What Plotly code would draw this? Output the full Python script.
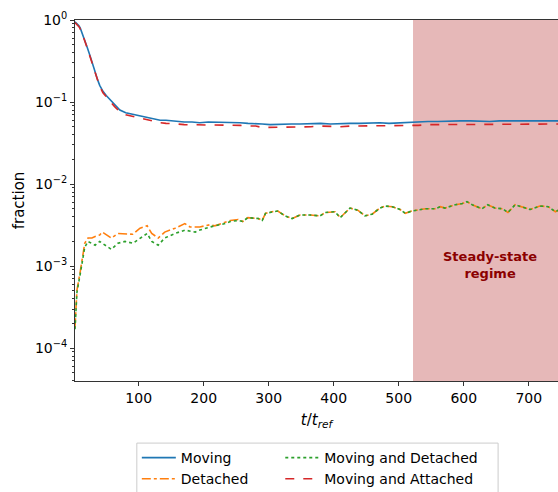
import plotly.graph_objects as go

# ---- data ----
t_mov = [2, 4, 6, 8, 10, 12, 14, 17, 21, 25, 29, 33, 37, 40, 45, 50, 56, 63, 71, 80, 90, 102, 115,
         125, 133, 142, 150, 160, 170, 182, 194, 207, 220, 238, 256, 268, 280, 290, 302, 320, 335,
         348, 365, 380, 395, 410, 425, 440, 455, 471, 485, 500, 515, 530, 545,
         560, 580, 595, 610, 625, 640, 655, 670, 685, 700, 715, 730, 748]
moving = [0.95, 0.92, 0.88, 0.85, 0.80, 0.73, 0.66, 0.57, 0.46, 0.37, 0.29, 0.225, 0.185, 0.16,
          0.135, 0.12, 0.106, 0.092, 0.08, 0.074, 0.071, 0.067, 0.064,
          0.062, 0.060, 0.060, 0.059, 0.058, 0.057, 0.057, 0.056, 0.057, 0.057, 0.056, 0.056, 0.055,
          0.055, 0.054, 0.053, 0.054, 0.054, 0.054, 0.055, 0.055, 0.054, 0.055, 0.055, 0.055, 0.056,
          0.056, 0.055, 0.056, 0.057, 0.057, 0.058,
          0.058, 0.059, 0.059, 0.059, 0.058, 0.058, 0.059, 0.059, 0.058, 0.059, 0.059, 0.059, 0.059]
moving_attached = [0.93, 0.90, 0.86, 0.83, 0.78, 0.72, 0.65, 0.56, 0.45, 0.36, 0.28, 0.22, 0.18,
                   0.155, 0.13, 0.115, 0.102, 0.088, 0.076, 0.070, 0.067, 0.063, 0.060,
                   0.057, 0.056, 0.055, 0.055, 0.054, 0.053, 0.053, 0.052, 0.053, 0.053, 0.052,
                   0.052, 0.051, 0.051, 0.049, 0.049, 0.050, 0.050, 0.050, 0.050, 0.051, 0.050,
                   0.050, 0.051, 0.051, 0.051, 0.052, 0.051, 0.052, 0.052, 0.052, 0.053,
                   0.053, 0.054, 0.053, 0.053, 0.054, 0.054, 0.053, 0.053, 0.054, 0.054, 0.054,
                   0.054, 0.054]

t_det = [2, 5, 10, 13, 17, 22, 28, 33, 40, 44,
         53, 58, 68, 79, 91, 102, 113, 120, 130, 140,
         156, 171, 179, 187, 194, 202, 210, 217, 233, 241,
         253, 260, 268, 284, 290, 295, 305, 314, 325, 336,
         348, 364, 379, 387, 402, 410, 418, 425, 437, 448,
         459, 471, 479, 490, 502, 510, 520, 541, 556, 564,
         571, 587, 598, 605, 613, 621, 628, 637, 648, 660,
         668, 679, 690, 702, 717, 730, 741, 748]
detached = [1.8e-4, 5.1e-4, 8.5e-4, 1.25e-3, 1.9e-3, 2.2e-3, 2.2e-3, 2.3e-3, 2.4e-3, 2.6e-3,
            2.3e-3, 2.2e-3, 2.5e-3, 2.5e-3, 2.45e-3, 2.9e-3, 3.1e-3, 2.5e-3, 2.2e-3, 2.6e-3,
            2.9e-3, 3.3e-3, 3.0e-3, 3.0e-3, 3.0e-3, 3.1e-3, 3.2e-3, 3.1e-3, 3.4e-3, 3.6e-3,
            3.7e-3, 3.5e-3, 3.9e-3, 3.8e-3, 3.6e-3, 4.4e-3, 4.6e-3, 4.7e-3, 4.1e-3, 3.8e-3,
            4.2e-3, 4.2e-3, 4.1e-3, 4.5e-3, 4.6e-3, 3.9e-3, 4.5e-3, 5.1e-3, 4.8e-3, 4.1e-3,
            4.3e-3, 5.1e-3, 5.4e-3, 5.3e-3, 4.9e-3, 4.4e-3, 4.7e-3, 5.0e-3, 5.0e-3, 5.3e-3,
            5.1e-3, 5.6e-3, 5.8e-3, 6.1e-3, 5.6e-3, 5.3e-3, 5.0e-3, 5.6e-3, 5.1e-3, 5.0e-3,
            4.5e-3, 5.6e-3, 5.3e-3, 4.9e-3, 5.4e-3, 5.3e-3, 4.6e-3, 4.9e-3]
moving_detached = [1.7e-4, 4.8e-4, 8.0e-4, 1.15e-3, 1.7e-3, 2.0e-3, 1.9e-3, 1.8e-3, 2.0e-3, 1.9e-3,
                   1.7e-3, 1.6e-3, 1.9e-3, 2.0e-3, 1.9e-3, 2.2e-3, 2.5e-3, 2.0e-3, 1.8e-3, 2.2e-3,
                   2.5e-3, 2.75e-3, 2.7e-3, 2.6e-3, 2.75e-3, 2.9e-3, 3.0e-3, 3.1e-3, 3.3e-3, 3.5e-3,
                   3.6e-3, 3.5e-3, 3.9e-3, 3.8e-3, 3.6e-3, 4.4e-3, 4.6e-3, 4.7e-3, 4.1e-3, 3.8e-3,
                   4.2e-3, 4.2e-3, 4.1e-3, 4.5e-3, 4.6e-3, 3.9e-3, 4.5e-3, 5.1e-3, 4.8e-3, 4.1e-3,
                   4.3e-3, 5.1e-3, 5.4e-3, 5.3e-3, 4.9e-3, 4.4e-3, 4.7e-3, 5.0e-3, 5.0e-3, 5.3e-3,
                   5.1e-3, 5.6e-3, 5.8e-3, 6.1e-3, 5.6e-3, 5.3e-3, 5.0e-3, 5.6e-3, 5.1e-3, 5.0e-3,
                   4.5e-3, 5.6e-3, 5.3e-3, 4.9e-3, 5.4e-3, 5.3e-3, 4.6e-3, 4.9e-3]

steady_start = 522
x_ticks = [100, 200, 300, 400, 500, 600, 700]
y_ticks = [1e-4, 1e-3, 1e-2, 1e-1, 1e0]
y_ticktext = ["10<sup>−4</sup>", "10<sup>−3</sup>", "10<sup>−2</sup>", "10<sup>−1</sup>", "10<sup>0</sup>"]

FONT = "DejaVu Sans"
x_min, x_max = 2, 745

fig = go.Figure()
fig.add_trace(go.Scatter(x=t_mov, y=moving, name="Moving", mode="lines",
                         line=dict(color="#1f77b4", width=1.6), legend="legend", legendrank=1))
fig.add_trace(go.Scatter(x=t_det, y=detached, name="Detached", mode="lines",
                         line=dict(color="#ff7f0e", width=1.6, dash="dashdot"),
                         legend="legend", legendrank=2))
fig.add_trace(go.Scatter(x=t_det, y=moving_detached, name="Moving and Detached", mode="lines",
                         line=dict(color="#2ca02c", width=1.6, dash="dot"),
                         legend="legend2", legendrank=1))
fig.add_trace(go.Scatter(x=t_mov, y=moving_attached, name="Moving and Attached", mode="lines",
                         line=dict(color="#d62728", width=1.6, dash="dash"),
                         legend="legend2", legendrank=2))

fig.add_shape(type="rect", xref="x", yref="paper", x0=steady_start, x1=x_max + 10, y0=0, y1=1,
              fillcolor="#e6b8b8", line=dict(width=0), layer="below")

# legend frame around both legend columns
fig.add_shape(type="rect", xref="paper", yref="paper", x0=0.128, x1=0.876, y0=-0.172, y1=-0.33,
              fillcolor="rgba(255,255,255,0)", line=dict(color="#cccccc", width=1))

fig.add_annotation(x=640, y=-2.99, xref="x", yref="y",
                   text="<b>Steady-state</b><br><b>regime</b>", showarrow=False,
                   font=dict(family=FONT, size=13, color="#8b0000"), align="center")

minor_vals = [m * 10.0 ** e for e in range(-5, 0) for m in range(2, 10)]

leg_common = dict(orientation="v", yanchor="top", xanchor="left", y=-0.169,
                  bgcolor="rgba(255,255,255,0)", borderwidth=0,
                  font=dict(family=FONT, size=14), tracegroupgap=0, itemwidth=34,
                  traceorder="normal")

fig.update_layout(
    width=558, height=492,
    margin=dict(l=75, r=0, t=20, b=111, autoexpand=False),
    plot_bgcolor="white", paper_bgcolor="white",
    font=dict(family=FONT, size=14, color="black"),
    showlegend=True,
    legend=dict(x=0.128, **leg_common),
    legend2=dict(x=0.425, **leg_common),
    xaxis=dict(range=[x_min, x_max], tickvals=x_ticks, ticks="outside", ticklen=4,
               tickcolor="#333", showline=True, linecolor="#333", linewidth=1, mirror=True,
               showgrid=False, zeroline=False,
               title=dict(text="<i>t</i>/<i>t</i><sub><i>ref</i></sub>", standoff=9,
                         font=dict(size=15)),
               tickfont=dict(size=14)),
    yaxis=dict(type="log", range=[-4.4, 0], tickvals=y_ticks, ticktext=y_ticktext,
               ticks="outside", ticklen=4, tickcolor="#333",
               showline=True, linecolor="#333", linewidth=1, showgrid=False, zeroline=False,
               minor=dict(tickvals=minor_vals, ticks="outside", ticklen=2, tickcolor="#333",
                          showgrid=False),
               title=dict(text="fraction", standoff=6, font=dict(size=15)),
               tickfont=dict(size=14)),
)

fig.write_html("out.html")
